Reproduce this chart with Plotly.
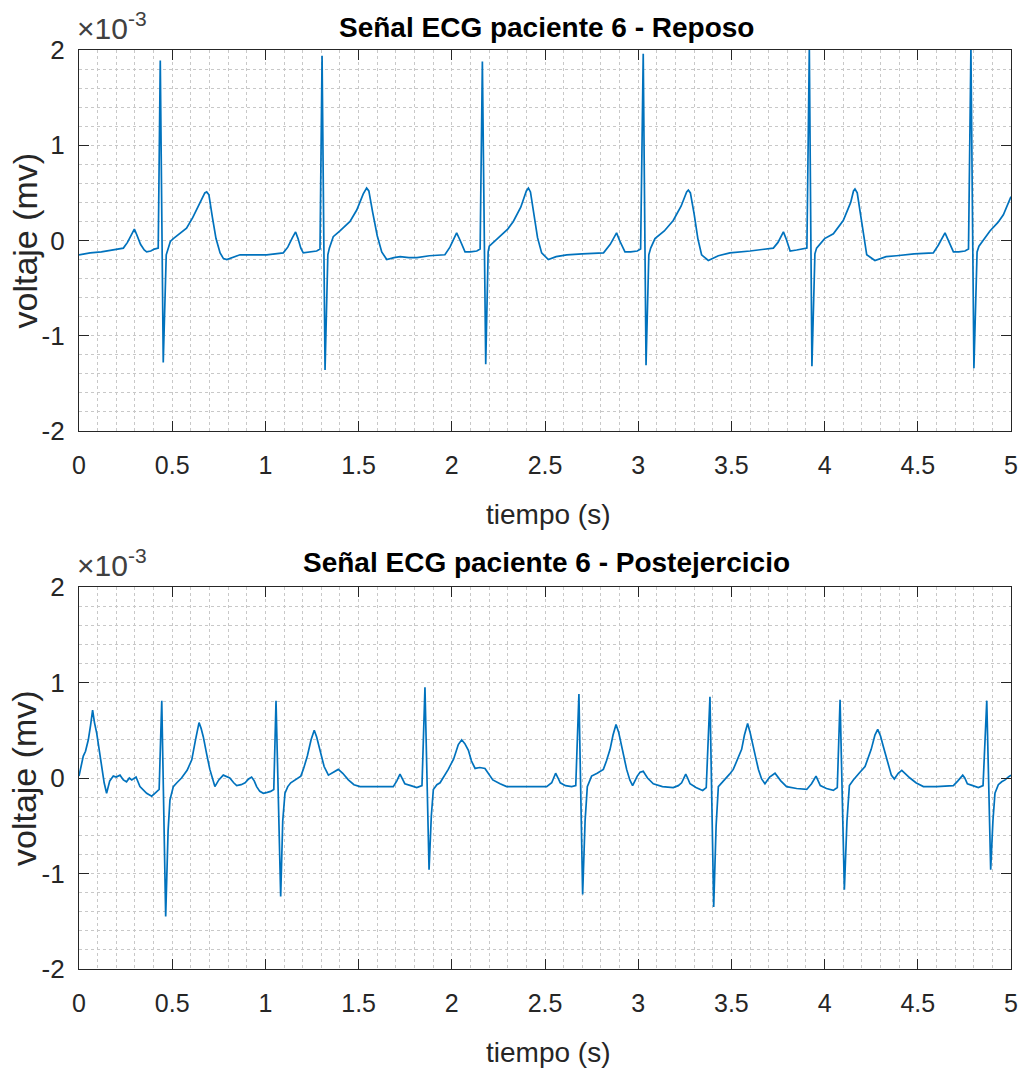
import plotly.graph_objects as go

# ---------------- data (voltage in units of 1e-3) ----------------
reposo_points = [
    (0.000, -0.15), (0.060, -0.13), (0.120, -0.12), (0.180, -0.10), (0.238, -0.08), (0.260, -0.02),
    (0.280, 0.06), (0.297, 0.12), (0.310, 0.06), (0.330, -0.04), (0.350, -0.10), (0.363, -0.12),
    (0.385, -0.11), (0.404, -0.09), (0.425, -0.08), (0.436, 1.89), (0.452, -1.28), (0.468, -0.15),
    (0.476, -0.10), (0.490, -0.01), (0.506, 0.02), (0.540, 0.07), (0.577, 0.13), (0.610, 0.24),
    (0.649, 0.39), (0.675, 0.50), (0.685, 0.51), (0.697, 0.48), (0.715, 0.25), (0.735, 0.02),
    (0.757, -0.13), (0.775, -0.19), (0.793, -0.20), (0.830, -0.17), (0.864, -0.15), (0.940, -0.15),
    (1.007, -0.15), (1.096, -0.13), (1.120, -0.07), (1.145, 0.03), (1.162, 0.09), (1.175, 0.02),
    (1.190, -0.08), (1.203, -0.13), (1.240, -0.12), (1.275, -0.11), (1.293, -0.09), (1.304, 1.94),
    (1.320, -1.36), (1.335, -0.15), (1.343, -0.08), (1.364, 0.04), (1.400, 0.10), (1.454, 0.20),
    (1.490, 0.32), (1.525, 0.49), (1.543, 0.55), (1.555, 0.52), (1.575, 0.30), (1.600, 0.05),
    (1.624, -0.12), (1.651, -0.20), (1.690, -0.18), (1.723, -0.17), (1.770, -0.18), (1.813, -0.18),
    (1.880, -0.16), (1.963, -0.15), (1.990, -0.07), (2.026, 0.08), (2.045, 0.00), (2.071, -0.12),
    (2.100, -0.12), (2.134, -0.11), (2.152, -0.09), (2.164, 1.88), (2.182, -1.30), (2.195, -0.12),
    (2.201, -0.06), (2.259, 0.04), (2.300, 0.12), (2.330, 0.20), (2.370, 0.35), (2.400, 0.52),
    (2.411, 0.55), (2.422, 0.51), (2.440, 0.28), (2.460, 0.03), (2.482, -0.13), (2.518, -0.20),
    (2.560, -0.17), (2.617, -0.15), (2.700, -0.14), (2.814, -0.13), (2.850, -0.04), (2.884, 0.08),
    (2.900, 0.00), (2.929, -0.12), (2.960, -0.12), (2.995, -0.11), (3.013, -0.09), (3.027, 1.96),
    (3.042, -1.31), (3.057, -0.15), (3.067, -0.08), (3.090, 0.02), (3.140, 0.10), (3.188, 0.21),
    (3.230, 0.36), (3.260, 0.51), (3.269, 0.53), (3.280, 0.50), (3.300, 0.28), (3.320, 0.02),
    (3.340, -0.15), (3.376, -0.21), (3.430, -0.16), (3.492, -0.13), (3.600, -0.11), (3.725, -0.08),
    (3.750, -0.02), (3.779, 0.09), (3.795, 0.01), (3.815, -0.11), (3.850, -0.10), (3.886, -0.09),
    (3.905, -0.08), (3.918, 2.02), (3.932, -1.32), (3.948, -0.14), (3.957, -0.08), (4.000, 0.02),
    (4.047, 0.07), (4.100, 0.21), (4.140, 0.40), (4.155, 0.52), (4.163, 0.54), (4.175, 0.50),
    (4.190, 0.30), (4.210, 0.02), (4.226, -0.15), (4.270, -0.21), (4.330, -0.17), (4.386, -0.16),
    (4.480, -0.14), (4.583, -0.13), (4.610, -0.05), (4.646, 0.08), (4.665, 0.00), (4.691, -0.12),
    (4.720, -0.12), (4.753, -0.11), (4.772, -0.09), (4.785, 2.02), (4.801, -1.34), (4.818, -0.12),
    (4.828, -0.06), (4.860, 0.03), (4.887, 0.10), (4.930, 0.19), (4.959, 0.27), (5.000, 0.46),
]

post_points = [
    (0.000, 0.02), (0.012, 0.12), (0.023, 0.23), (0.035, 0.28), (0.050, 0.40), (0.062, 0.55),
    (0.073, 0.71), (0.083, 0.58), (0.095, 0.47), (0.108, 0.30), (0.121, 0.12), (0.135, -0.05),
    (0.148, -0.16), (0.165, -0.03), (0.184, 0.02), (0.200, 0.01), (0.220, 0.03), (0.238, -0.02),
    (0.255, -0.04), (0.270, 0.00), (0.283, -0.02), (0.306, 0.01), (0.327, -0.09), (0.345, -0.13),
    (0.363, -0.16), (0.390, -0.19), (0.405, -0.17), (0.413, -0.15), (0.430, -0.12), (0.444, 0.81),
    (0.465, -1.45), (0.478, -0.55), (0.488, -0.23), (0.506, -0.09), (0.525, -0.05), (0.550, 0.00),
    (0.580, 0.08), (0.605, 0.19), (0.625, 0.40), (0.644, 0.58), (0.655, 0.52), (0.667, 0.43),
    (0.685, 0.25), (0.702, 0.09), (0.729, -0.09), (0.750, -0.02), (0.774, 0.03), (0.790, 0.02),
    (0.809, 0.00), (0.830, -0.05), (0.846, -0.08), (0.870, -0.07), (0.891, -0.05), (0.910, -0.01),
    (0.926, 0.01), (0.940, -0.03), (0.953, -0.09), (0.970, -0.14), (0.989, -0.16), (1.010, -0.15),
    (1.028, -0.14), (1.045, -0.12), (1.057, 0.81), (1.082, -1.24), (1.093, -0.45), (1.105, -0.16),
    (1.120, -0.09), (1.136, -0.05), (1.160, -0.02), (1.190, 0.02), (1.205, 0.10), (1.225, 0.23),
    (1.245, 0.40), (1.262, 0.50), (1.275, 0.43), (1.293, 0.29), (1.315, 0.12), (1.338, 0.03),
    (1.365, 0.06), (1.391, 0.09), (1.415, 0.05), (1.445, -0.02), (1.475, -0.07), (1.508, -0.09),
    (1.600, -0.09), (1.686, -0.09), (1.705, -0.03), (1.722, 0.04), (1.735, -0.01), (1.748, -0.06),
    (1.780, -0.08), (1.812, -0.10), (1.840, -0.08), (1.856, 0.95), (1.878, -0.96), (1.890, -0.40),
    (1.901, -0.12), (1.920, -0.07), (1.937, -0.05), (1.960, 0.02), (1.981, 0.09), (2.010, 0.20),
    (2.035, 0.35), (2.053, 0.40), (2.070, 0.36), (2.089, 0.29), (2.105, 0.18), (2.125, 0.10),
    (2.150, 0.11), (2.178, 0.10), (2.200, 0.04), (2.220, -0.02), (2.259, -0.06), (2.294, -0.09),
    (2.366, -0.09), (2.440, -0.09), (2.509, -0.09), (2.536, -0.05), (2.557, 0.05), (2.570, 0.00),
    (2.582, -0.05), (2.610, -0.08), (2.643, -0.09), (2.665, -0.08), (2.682, 0.88), (2.702, -1.22),
    (2.715, -0.45), (2.727, -0.09), (2.750, 0.02), (2.780, 0.05), (2.813, 0.09), (2.830, 0.18),
    (2.849, 0.30), (2.865, 0.45), (2.881, 0.56), (2.895, 0.48), (2.912, 0.33), (2.925, 0.20),
    (2.938, 0.09), (2.955, -0.02), (2.970, -0.08), (2.995, 0.02), (3.010, 0.06), (3.027, 0.07),
    (3.050, 0.00), (3.081, -0.06), (3.130, -0.09), (3.188, -0.10), (3.215, -0.08), (3.233, -0.05),
    (3.255, 0.04), (3.265, 0.00), (3.278, -0.06), (3.310, -0.10), (3.346, -0.13), (3.365, -0.10),
    (3.385, 0.85), (3.405, -1.35), (3.418, -0.50), (3.430, -0.09), (3.448, -0.05), (3.466, -0.02),
    (3.490, 0.04), (3.510, 0.09), (3.530, 0.18), (3.555, 0.30), (3.570, 0.45), (3.587, 0.57),
    (3.600, 0.48), (3.619, 0.33), (3.632, 0.20), (3.645, 0.09), (3.662, -0.01), (3.680, -0.06),
    (3.705, 0.01), (3.734, 0.05), (3.765, -0.03), (3.796, -0.09), (3.850, -0.11), (3.904, -0.12),
    (3.930, -0.06), (3.954, 0.02), (3.965, -0.03), (3.977, -0.08), (4.010, -0.11), (4.047, -0.13),
    (4.068, -0.10), (4.083, 0.82), (4.106, -1.17), (4.120, -0.45), (4.133, -0.08), (4.154, -0.02),
    (4.185, 0.05), (4.217, 0.12), (4.250, 0.30), (4.270, 0.45), (4.285, 0.51), (4.300, 0.44),
    (4.315, 0.33), (4.330, 0.22), (4.342, 0.12), (4.358, 0.03), (4.374, -0.01), (4.395, 0.05),
    (4.414, 0.08), (4.435, 0.04), (4.458, 0.00), (4.490, -0.05), (4.530, -0.09), (4.600, -0.09),
    (4.691, -0.08), (4.715, -0.03), (4.741, 0.03), (4.752, 0.00), (4.766, -0.06), (4.795, -0.08),
    (4.825, -0.10), (4.850, -0.08), (4.870, 0.81), (4.891, -0.96), (4.903, -0.45), (4.914, -0.16),
    (4.932, -0.07), (4.950, -0.04), (4.968, -0.02), (4.985, 0.01), (5.000, 0.03),
]

reposo_t = [p[0] for p in reposo_points]
reposo_v = [p[1] for p in reposo_points]
post_t = [p[0] for p in post_points]
post_v = [p[1] for p in post_points]

x_ticks = [0, 0.5, 1, 1.5, 2, 2.5, 3, 3.5, 4, 4.5, 5]
x_ticklabels = ["0", "0.5", "1", "1.5", "2", "2.5", "3", "3.5", "4", "4.5", "5"]
y_ticks = [-2, -1, 0, 1, 2]
y_ticklabels = ["-2", "-1", "0", "1", "2"]

titles = ["Señal ECG paciente 6 - Reposo", "Señal ECG paciente 6 - Postejercicio"]
x_label = "tiempo (s)"
y_label = "voltaje (mv)"
exponent_label = "×10<sup>-3</sup>"

# ---------------- layout geometry ----------------
W, H = 1028, 1072
LINE_COLOR = "#0072BD"
AX_COLOR = "#262626"
GRID_COLOR = "#c8c8c8"
FONT = "Liberation Sans, Arial, sans-serif"

x_dom = [79 / W, 1011 / W]
axes_px = [(50, 431), (587, 969)]


def ydom(a, b):
    return [1 - b / H, 1 - a / H]


fig = go.Figure()
fig.add_trace(go.Scatter(x=reposo_t, y=reposo_v, mode="lines",
                         line=dict(color=LINE_COLOR, width=1.7), xaxis="x", yaxis="y",
                         showlegend=False, cliponaxis=True))
fig.add_trace(go.Scatter(x=post_t, y=post_v, mode="lines",
                         line=dict(color=LINE_COLOR, width=1.7), xaxis="x2", yaxis="y2",
                         showlegend=False, cliponaxis=True))


def xaxis_cfg(anchor):
    return dict(domain=x_dom, anchor=anchor, range=[0, 5], tickmode="array",
                tickvals=x_ticks, ticktext=x_ticklabels, ticks="inside", ticklen=10,
                tickwidth=1.2, tickcolor=AX_COLOR, showline=True, linecolor=AX_COLOR,
                linewidth=1.3, mirror="ticks", showgrid=True, gridcolor=GRID_COLOR,
                griddash="dot", gridwidth=1, zeroline=False, automargin=False,
                minor=dict(dtick=0.1, showgrid=True, gridcolor=GRID_COLOR, griddash="dot",
                           gridwidth=1, ticks=""),
                tickfont=dict(family=FONT, size=25, color=AX_COLOR),
                ticklabelstandoff=12)


def yaxis_cfg(anchor, dom):
    return dict(domain=dom, anchor=anchor, range=[-2, 2], tickmode="array",
                tickvals=y_ticks, ticktext=y_ticklabels, ticks="inside", ticklen=10,
                tickwidth=1.2, tickcolor=AX_COLOR, showline=True, linecolor=AX_COLOR,
                linewidth=1.3, mirror="ticks", showgrid=True, gridcolor=GRID_COLOR,
                griddash="dot", gridwidth=1, zeroline=False, automargin=False,
                minor=dict(dtick=0.2, showgrid=True, gridcolor=GRID_COLOR, griddash="dot",
                           gridwidth=1, ticks=""),
                tickfont=dict(family=FONT, size=26, color=AX_COLOR),
                ticklabelstandoff=8)


annotations = []
title_y = [27, 562]
xlabel_y = [514, 1052]
for i, (a, b) in enumerate(axes_px):
    annotations.append(dict(text="<b>" + titles[i] + "</b>", x=546 / W, y=1 - title_y[i] / H,
                            xref="paper", yref="paper", showarrow=False,
                            xanchor="center", yanchor="middle",
                            font=dict(family=FONT, size=28, color="#000000")))
    annotations.append(dict(text=x_label, x=548 / W, y=1 - xlabel_y[i] / H,
                            xref="paper", yref="paper", showarrow=False,
                            xanchor="center", yanchor="middle",
                            font=dict(family=FONT, size=28, color=AX_COLOR)))
    annotations.append(dict(text=y_label, x=24 / W, y=1 - ((a + b) / 2) / H,
                            xref="paper", yref="paper", showarrow=False, textangle=-90,
                            xanchor="center", yanchor="middle",
                            font=dict(family=FONT, size=34, color=AX_COLOR)))
    annotations.append(dict(text=exponent_label, x=75 / W, y=1 - (a - 24) / H,
                            xref="paper", yref="paper", showarrow=False,
                            xanchor="left", yanchor="middle",
                            font=dict(family=FONT, size=30, color="#404040")))

fig.update_layout(
    width=W, height=H, margin=dict(l=0, r=0, t=0, b=0, autoexpand=False),
    paper_bgcolor="white", plot_bgcolor="white",
    xaxis=xaxis_cfg("y"), yaxis=yaxis_cfg("x", ydom(*axes_px[0])),
    xaxis2=xaxis_cfg("y2"), yaxis2=yaxis_cfg("x2", ydom(*axes_px[1])),
    annotations=annotations,
)

fig.write_html("out.html")
